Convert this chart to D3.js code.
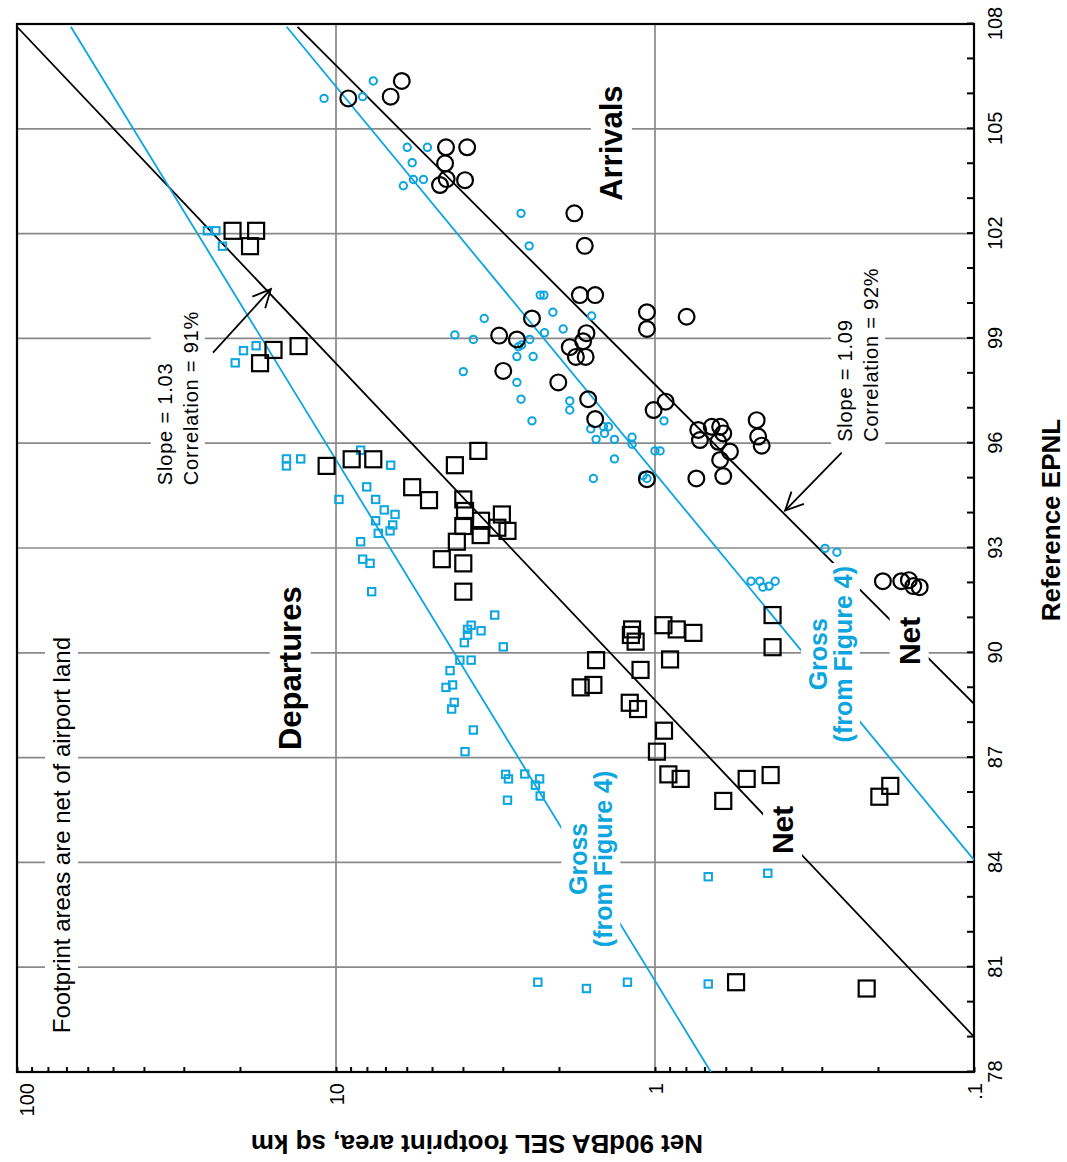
<!DOCTYPE html>
<html>
<head>
<meta charset="utf-8">
<script src="https://cdn.jsdelivr.net/npm/d3@7"></script>
<style>
    body { margin: 0; background: #fff; }
    svg { display: block; font-family: "Liberation Sans", Arial, sans-serif; }
</style>
</head>
<body>
<div id="chart"></div>
<script>
// Data: [Reference EPNL, footprint area sq km]
var arrivalsNet = [
    [105.87, 9.15], [106.37, 6.22], [105.92, 6.74], [104.47, 4.52], [104.47, 3.88], [104.01, 4.55],
    [103.39, 4.72], [103.56, 4.50], [103.53, 3.94], [102.58, 1.79], [101.65, 1.66], [100.24, 1.72],
    [100.24, 1.54], [99.57, 2.43], [99.75, 1.06], [99.27, 1.06], [99.62, 0.796], [99.08, 3.08],
    [98.97, 2.71], [99.15, 1.64], [98.92, 1.68], [98.75, 1.85], [98.47, 1.77], [98.47, 1.65],
    [98.07, 2.99], [97.74, 2.01], [97.26, 1.62], [96.69, 1.54], [96.95, 1.01], [97.19, 0.926],
    [94.97, 1.06], [96.38, 0.732], [96.09, 0.723], [96.47, 0.664], [96.47, 0.625], [96.28, 0.611],
    [96.04, 0.633], [95.76, 0.582], [95.52, 0.625], [94.99, 0.742], [95.06, 0.611], [96.66, 0.480],
    [96.19, 0.475], [95.93, 0.463], [92.05, 0.193], [92.05, 0.169], [92.08, 0.160], [91.91, 0.155],
    [91.88, 0.148]
];

var arrivalsGross = [
    [105.87, 10.9], [105.92, 8.25], [106.37, 7.64], [104.47, 5.98], [104.03, 5.77], [103.55, 5.72],
    [103.37, 6.15], [104.47, 5.17], [103.55, 5.32], [102.58, 2.63], [101.65, 2.48], [100.24, 2.29],
    [100.24, 2.23], [99.57, 3.43], [99.10, 4.24], [98.97, 3.71], [99.75, 2.09], [99.64, 1.58],
    [99.27, 1.94], [99.16, 2.22], [98.97, 2.47], [98.76, 2.68], [98.81, 2.62], [98.48, 2.71],
    [98.48, 2.41], [98.05, 3.99], [97.74, 2.71], [97.26, 2.63], [96.64, 2.43], [97.21, 1.85],
    [96.95, 1.85], [96.41, 1.59], [96.11, 1.53], [96.28, 1.44], [96.47, 1.45], [96.47, 1.40],
    [96.11, 1.34], [96.17, 1.18], [95.97, 1.18], [95.55, 1.34], [94.99, 1.56], [95.78, 1.00],
    [95.78, 0.964], [95.07, 1.09], [94.99, 1.06], [96.64, 0.937], [92.99, 0.293], [92.88, 0.269],
    [92.05, 0.500], [92.05, 0.469], [91.88, 0.459], [91.91, 0.439], [92.05, 0.420]
];

var departuresNet = [
    [102.08, 21.1], [102.08, 17.8], [101.64, 18.6], [98.67, 15.7], [98.29, 17.3], [98.78, 13.1],
    [95.35, 10.7], [95.54, 8.93], [95.54, 7.64], [94.74, 5.77], [94.37, 5.11], [95.78, 3.58],
    [95.37, 4.24], [94.39, 3.99], [94.06, 3.94], [93.78, 3.51], [93.96, 3.02], [93.49, 2.90],
    [93.63, 3.99], [93.37, 3.52], [93.58, 3.12], [93.18, 4.18], [92.68, 4.66], [92.56, 3.99],
    [91.75, 3.99], [90.67, 1.18], [90.51, 1.19], [90.32, 1.15], [90.79, 0.941], [90.67, 0.855],
    [90.57, 0.758], [89.79, 1.53], [89.81, 0.897], [89.51, 1.11], [89.01, 1.71], [89.08, 1.56],
    [88.57, 1.20], [88.39, 1.13], [87.77, 0.937], [87.17, 0.986], [86.52, 0.908], [86.39, 0.831],
    [91.08, 0.428], [90.16, 0.428], [86.39, 0.516], [86.50, 0.434], [85.76, 0.611], [85.88, 0.198],
    [86.19, 0.183], [80.57, 0.557], [80.39, 0.217]
];

var departuresGross = [
    [102.08, 25.3], [102.08, 23.8], [101.64, 22.7], [98.30, 20.7], [98.65, 19.5], [98.79, 17.8],
    [95.55, 14.3], [95.35, 14.3], [95.55, 12.9], [95.80, 8.37], [95.37, 6.74], [94.39, 9.79],
    [94.75, 8.01], [94.39, 7.51], [94.09, 7.06], [93.96, 6.53], [93.78, 7.51], [93.66, 6.64],
    [93.42, 7.37], [93.49, 6.77], [93.18, 8.37], [92.68, 8.25], [92.56, 7.82], [91.75, 7.73],
    [91.08, 3.18], [90.79, 3.77], [90.67, 3.87], [90.63, 3.51], [90.51, 3.87], [90.29, 3.96],
    [90.17, 2.99], [89.79, 4.09], [89.79, 3.77], [89.49, 4.39], [89.01, 4.52], [89.08, 4.31],
    [88.58, 4.26], [88.39, 4.34], [87.79, 3.71], [87.17, 3.94], [86.52, 2.94], [86.39, 2.88],
    [86.53, 2.56], [86.39, 2.30], [86.21, 2.37], [85.90, 2.29], [85.78, 2.90], [83.59, 0.681],
    [83.69, 0.443], [80.57, 2.33], [80.39, 1.64], [80.57, 1.22], [80.52, 0.681]
];

// Regression lines (two end points each)
var departuresNetFit = [[107.92, 100], [79.01, 0.1]];
var arrivalsNetFit = [[107.92, 13.2], [88.54, 0.1]];
var departuresGrossFit = [[107.92, 67.8], [78, 0.668]];
var arrivalsGrossFit = [[107.92, 14.28], [84.07, 0.1]];

// Axis ticks
var epnlGrid = [81, 84, 87, 90, 93, 96, 99, 102, 105];
var epnlTicks = d3.range(78, 109, 1);
var areaGrid = [10, 1];
var areaDecades = [0.1, 1, 10, 100];
var areaLabels = [".1", "1", "10", "100"];

var blue = "#0ba5e0";

// SVG area
var svgWidth = 1067;
var svgHeight = 1162;

// frame of the plot on the page
var frame = { left: 17, top: 24, right: 974, bottom: 1072 };

// chart is drawn normally and then turned a quarter turn
var chartWidth = frame.bottom - frame.top;
var chartHeight = frame.right - frame.left;

var svg = d3.select("#chart")
    .append("svg")
    .attr("width", svgWidth)
    .attr("height", svgHeight);

svg.append("rect")
    .attr("width", svgWidth)
    .attr("height", svgHeight)
    .attr("fill", "#fff");

var chartGroup = svg.append("g")
    .attr("transform", `translate(${frame.left}, ${frame.bottom}) rotate(-90)`);

svg.append("defs").append("clipPath")
    .attr("id", "plotClip")
    .append("rect")
    .attr("width", chartWidth)
    .attr("height", chartHeight);

var xScale = d3.scaleLinear().domain([78, 108]).range([0, chartWidth]);
var yScale = d3.scaleLog().domain([0.1, 100]).range([chartHeight, 0]);

// gridlines
chartGroup.append("g").selectAll("line")
    .data(epnlGrid)
    .enter()
    .append("line")
    .attr("x1", d => xScale(d))
    .attr("x2", d => xScale(d))
    .attr("y1", 0)
    .attr("y2", chartHeight)
    .attr("stroke", "#8a8a8a")
    .attr("stroke-width", 1.7);

chartGroup.append("g").selectAll("line")
    .data(areaGrid)
    .enter()
    .append("line")
    .attr("x1", 0)
    .attr("x2", chartWidth)
    .attr("y1", d => yScale(d))
    .attr("y2", d => yScale(d))
    .attr("stroke", "#8a8a8a")
    .attr("stroke-width", 1.7);

// EPNL axis (right side of page)
var bottomAxis = d3.axisBottom(xScale)
    .tickValues(epnlTicks)
    .tickSizeInner(-7)
    .tickSizeOuter(0)
    .tickFormat(d => d % 3 === 0 ? d : "");

var xAxis = chartGroup.append("g")
    .attr("transform", `translate(0, ${chartHeight})`)
    .call(bottomAxis);
xAxis.select(".domain").remove();
xAxis.attr("font-family", null).attr("font-size", 20);
xAxis.selectAll("line").attr("stroke", "#000").attr("stroke-width", 2);
xAxis.selectAll("text").attr("y", 28).attr("dy", 0).attr("fill", "#000");

// area axis (bottom of page), log with minor ticks
var minorTicks = [];
[0.1, 1, 10].forEach(function (dec) {
    for (var k = 2; k <= 9; k++) minorTicks.push(dec * k);
});

var leftAxis = d3.axisLeft(yScale)
    .tickValues(areaDecades.concat(minorTicks))
    .tickSizeInner(-5)
    .tickSizeOuter(0)
    .tickPadding(11)
    .tickFormat(function (d) {
        var i = areaDecades.indexOf(d);
        return i >= 0 ? areaLabels[i] : "";
    });

var yAxis = chartGroup.append("g").call(leftAxis);
yAxis.select(".domain").remove();
yAxis.attr("font-family", null).attr("font-size", 20);
yAxis.selectAll("line").attr("stroke", "#000").attr("stroke-width", 2);
yAxis.selectAll("text")
    .attr("fill", "#000")
    .attr("dy", d => d === 100 ? "0.8em" : "0.36em");

// frame
chartGroup.append("rect")
    .attr("width", chartWidth)
    .attr("height", chartHeight)
    .attr("fill", "none")
    .attr("stroke", "#000")
    .attr("stroke-width", 2.2);

// fit lines
var lineGen = d3.line()
    .x(d => xScale(d[0]))
    .y(d => yScale(d[1]));

var fits = [
    [departuresNetFit, "#000"],
    [arrivalsNetFit, "#000"],
    [departuresGrossFit, blue],
    [arrivalsGrossFit, blue]
];

chartGroup.append("g")
    .attr("clip-path", "url(#plotClip)")
    .selectAll("path")
    .data(fits)
    .enter()
    .append("path")
    .attr("d", d => lineGen(d[0]))
    .attr("fill", "none")
    .attr("stroke", d => d[1])
    .attr("stroke-width", 1.8);

// arrows pointing at the net lines
function drawArrow(pts) {
    var x0 = xScale(pts[0][0]), y0 = yScale(pts[0][1]);
    var x1 = xScale(pts[1][0]), y1 = yScale(pts[1][1]);
    var ang = Math.atan2(y0 - y1, x0 - x1);
    var len = 20, spread = 0.45;
    var head = [
        [x1 + len * Math.cos(ang + spread), y1 + len * Math.sin(ang + spread)],
        [x1, y1],
        [x1 + len * Math.cos(ang - spread), y1 + len * Math.sin(ang - spread)]
    ];
    chartGroup.append("line")
        .attr("x1", x0).attr("y1", y0)
        .attr("x2", x1).attr("y2", y1)
        .attr("stroke", "#000")
        .attr("stroke-width", 1.8);
    chartGroup.append("path")
        .attr("d", d3.line()(head))
        .attr("fill", "none")
        .attr("stroke", "#000")
        .attr("stroke-width", 1.8);
}

drawArrow([[98.59, 24.3], [100.41, 16.0]]);
drawArrow([[95.73, 0.260], [94.07, 0.391]]);

// text labels with white backing that breaks lines behind them
function addLabel(lines, epnl, area, opts) {
    var g = chartGroup.append("g");
    var t = g.append("text")
        .attr("x", xScale(epnl))
        .attr("y", yScale(area))
        .attr("text-anchor", opts.anchor || "middle")
        .attr("font-size", opts.size)
        .attr("font-weight", opts.weight || "normal")
        .attr("letter-spacing", opts.spacing || 0)
        .attr("fill", opts.color || "#000");
    lines.forEach(function (s, i) {
        t.append("tspan")
            .attr("x", xScale(epnl))
            .attr("dy", i === 0 ? 0 : opts.lineHeight)
            .text(s);
    });
    var bb = t.node().getBBox();
    g.insert("rect", "text")
        .attr("x", bb.x - 3)
        .attr("y", bb.y - 3)
        .attr("width", bb.width + 6)
        .attr("height", bb.height + 6)
        .attr("fill", "#fff");
}

addLabel(["Arrivals"], 104.59, 1.27, { size: 31, weight: "bold" });
addLabel(["Departures"], 89.56, 12.9, { size: 31, weight: "bold" });
addLabel(["Net"], 84.93, 0.369, { size: 30, weight: "bold" });
addLabel(["Net"], 90.34, 0.148, { size: 30, weight: "bold" });
addLabel(["Gross", "(from Figure 4)"], 84.10, 1.63, { size: 25, weight: "bold", color: blue, lineHeight: 25 });
addLabel(["Gross", "(from Figure 4)"], 89.96, 0.289, { size: 25, weight: "bold", color: blue, lineHeight: 25 });
addLabel(["Slope = 1.03", "Correlation = 91%"], 94.80, 32.7, { size: 20, anchor: "start", spacing: 0.8, lineHeight: 26 });
addLabel(["Slope = 1.09", "Correlation = 92%"], 96.04, 0.241, { size: 20, anchor: "start", spacing: 0.8, lineHeight: 26 });
addLabel(["Footprint areas are net of airport land"], 79.11, 68.2, { size: 24, anchor: "start" });

// axis titles
chartGroup.append("text")
    .attr("x", 552)
    .attr("y", chartHeight + 86)
    .attr("text-anchor", "middle")
    .attr("font-size", 26)
    .attr("font-weight", "bold")
    .text("Reference EPNL");

chartGroup.append("text")
    .attr("transform", `translate(-63, 460) rotate(-90)`)
    .attr("text-anchor", "middle")
    .attr("font-size", 26)
    .attr("font-weight", "bold")
    .text("Net 90dBA SEL footprint area, sq km");

// data points
chartGroup.append("g").selectAll("rect")
    .data(departuresGross)
    .enter()
    .append("rect")
    .attr("x", d => xScale(d[0]) - 3.7)
    .attr("y", d => yScale(d[1]) - 3.7)
    .attr("width", 7.4)
    .attr("height", 7.4)
    .attr("fill", "none")
    .attr("stroke", blue)
    .attr("stroke-width", 2);

chartGroup.append("g").selectAll("circle")
    .data(arrivalsGross)
    .enter()
    .append("circle")
    .attr("cx", d => xScale(d[0]))
    .attr("cy", d => yScale(d[1]))
    .attr("r", 3.7)
    .attr("fill", "none")
    .attr("stroke", blue)
    .attr("stroke-width", 2);

chartGroup.append("g").selectAll("rect")
    .data(departuresNet)
    .enter()
    .append("rect")
    .attr("x", d => xScale(d[0]) - 8)
    .attr("y", d => yScale(d[1]) - 8)
    .attr("width", 16)
    .attr("height", 16)
    .attr("fill", "none")
    .attr("stroke", "#000")
    .attr("stroke-width", 2.2);

chartGroup.append("g").selectAll("circle")
    .data(arrivalsNet)
    .enter()
    .append("circle")
    .attr("cx", d => xScale(d[0]))
    .attr("cy", d => yScale(d[1]))
    .attr("r", 7.9)
    .attr("fill", "none")
    .attr("stroke", "#000")
    .attr("stroke-width", 2.2);
</script>
</body>
</html>
